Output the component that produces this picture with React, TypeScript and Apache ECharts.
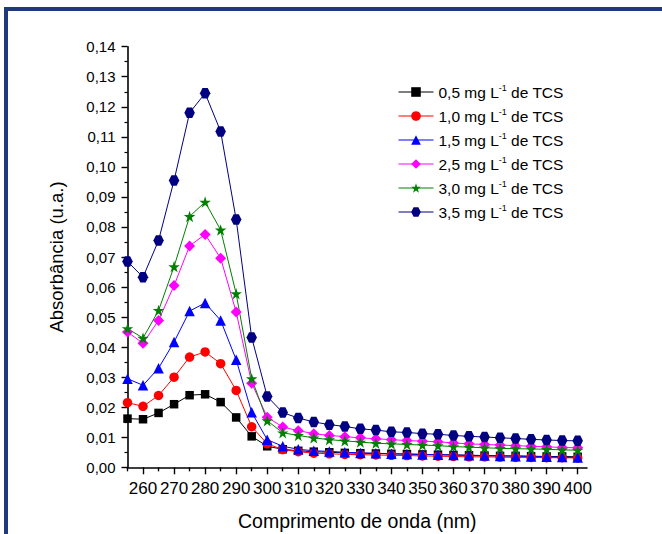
import React, { useEffect, useRef } from "react";
import * as echarts from "echarts";

const wavelengths = [255, 260, 265, 270, 275, 280, 285, 290, 295, 300, 305, 310, 315, 320, 325, 330, 335, 340, 345, 350, 355, 360, 365, 370, 375, 380, 385, 390, 395, 400];

const s05 = [0.0162, 0.0160, 0.0181, 0.0210, 0.0240, 0.0243, 0.0217, 0.0166, 0.0103, 0.0070, 0.0060, 0.0055, 0.0052, 0.0050, 0.0048, 0.0047, 0.0046, 0.0045, 0.0044, 0.0043, 0.0042, 0.0041, 0.0040, 0.0039, 0.0038, 0.0038, 0.0037, 0.0036, 0.0036, 0.0035];
const s10 = [0.0215, 0.0203, 0.0239, 0.0300, 0.0367, 0.0384, 0.0345, 0.0256, 0.0135, 0.0078, 0.0059, 0.0052, 0.0047, 0.0045, 0.0043, 0.0042, 0.0041, 0.0040, 0.0039, 0.0038, 0.0037, 0.0036, 0.0035, 0.0035, 0.0034, 0.0033, 0.0033, 0.0032, 0.0032, 0.0031];
const s15 = [0.0295, 0.0273, 0.0330, 0.0417, 0.0520, 0.0547, 0.0489, 0.0358, 0.0183, 0.0092, 0.0070, 0.0060, 0.0055, 0.0053, 0.0050, 0.0048, 0.0047, 0.0045, 0.0044, 0.0043, 0.0042, 0.0041, 0.0040, 0.0039, 0.0038, 0.0037, 0.0036, 0.0035, 0.0034, 0.0033];
const s25 = [0.0450, 0.0413, 0.0489, 0.0605, 0.0737, 0.0775, 0.0696, 0.0517, 0.0280, 0.0167, 0.0134, 0.0122, 0.0112, 0.0106, 0.0102, 0.0098, 0.0095, 0.0092, 0.0089, 0.0087, 0.0085, 0.0081, 0.0078, 0.0076, 0.0074, 0.0072, 0.0070, 0.0068, 0.0066, 0.0065];
const s30 = [0.0462, 0.0430, 0.0522, 0.0668, 0.0835, 0.0883, 0.0790, 0.0578, 0.0295, 0.0155, 0.0115, 0.0106, 0.0098, 0.0092, 0.0088, 0.0084, 0.0080, 0.0078, 0.0076, 0.0074, 0.0072, 0.0069, 0.0067, 0.0065, 0.0063, 0.0062, 0.0061, 0.0060, 0.0058, 0.0057];
const s35 = [0.0685, 0.0633, 0.0755, 0.0955, 0.1180, 0.1245, 0.1118, 0.0825, 0.0432, 0.0236, 0.0182, 0.0164, 0.0151, 0.0142, 0.0136, 0.0128, 0.0124, 0.0118, 0.0116, 0.0112, 0.0110, 0.0106, 0.0103, 0.0101, 0.0098, 0.0096, 0.0093, 0.0091, 0.0089, 0.0088];

const seriesNames = ["0,5 mg L-1 de TCS", "1,0 mg L-1 de TCS", "1,5 mg L-1 de TCS", "2,5 mg L-1 de TCS", "3,0 mg L-1 de TCS", "3,5 mg L-1 de TCS"];
const seriesValues = [s05, s10, s15, s25, s30, s35];

const xMajorTicks = [260, 270, 280, 290, 300, 310, 320, 330, 340, 350, 360, 370, 380, 390, 400];
const xMinorTicks = [255, 265, 275, 285, 295, 305, 315, 325, 335, 345, 355, 365, 375, 385, 395];

const STAR = "path://M50,0 L61.2,34.5 L97.6,34.5 L68.2,55.9 L79.4,90.5 L50,69.1 L20.6,90.5 L31.8,55.9 L2.4,34.5 L38.8,34.5 Z";
const HEX = "path://M25,0 L75,0 L100,50 L75,100 L25,100 L0,50 Z";

const styles = [
  { color: "#000000", symbol: "rect", size: 8.5 },
  { color: "#FF0000", symbol: "circle", size: 9.5 },
  { color: "#0000FF", symbol: "triangle", size: 10.5 },
  { color: "#FF00FF", symbol: "diamond", size: 11 },
  { color: "#008000", symbol: STAR, size: 11.5 },
  { color: "#000080", symbol: HEX, size: 10.5 },
];

const FONT = "'Liberation Sans', Arial, sans-serif";

export default function App() {
  const ref = useRef<HTMLDivElement>(null);
  useEffect(() => {
    if (!ref.current) return;
    const chart = echarts.init(ref.current, null, { renderer: "svg" });
    const series = seriesNames.map((name, i) => ({
      name,
      type: "line",
      xAxisIndex: 0,
      yAxisIndex: 0,
      data: wavelengths.map((w, j) => [w, seriesValues[i][j]]),
      symbol: styles[i].symbol,
      symbolSize: styles[i].size,
      showAllSymbol: true,
      lineStyle: { color: styles[i].color, width: 1 },
      itemStyle: { color: styles[i].color },
      emphasis: { disabled: true },
    }));
    chart.setOption({
      animation: false,
      backgroundColor: "#ffffff",
      textStyle: { fontFamily: FONT },
      grid: { left: 127.5, right: 75, top: 46.7, bottom: 66.7, containLabel: false, outerBoundsMode: "none" },
      legend: {
        orient: "vertical",
        left: 393,
        top: 78,
        itemWidth: 35,
        itemHeight: 12,
        itemGap: 6,
        data: seriesNames,
        lineStyle: { width: 1 },
        formatter: (name: string) => name.replace("L-1", "L{sup|-1}"),
        textStyle: {
          fontFamily: FONT,
          fontSize: 15.5,
          color: "#000",
          lineHeight: 18,
          rich: {
            sup: { fontSize: 9, lineHeight: 8, verticalAlign: "top", color: "#000", fontFamily: FONT },
          },
        },
      },
      xAxis: [
        {
          type: "value",
          min: 255,
          max: 403,
          name: "Comprimento de onda (nm)",
          nameLocation: "middle",
          nameGap: 44,
          nameTextStyle: { fontSize: 19.5, color: "#000", fontFamily: FONT },
          axisLine: { show: true, onZero: false, lineStyle: { color: "#000", width: 1.6 } },
          axisTick: { show: true, customValues: xMinorTicks, length: 4, lineStyle: { color: "#000", width: 1.4 } },
          axisLabel: {
            customValues: xMajorTicks,
            margin: 13,
            fontSize: 17,
            color: "#000",
            fontFamily: "'Liberation Sans Narrow', 'Arial Narrow', 'Liberation Sans', Arial, sans-serif",
          },
          splitLine: { show: false },
        },
        {
          type: "value",
          min: 255,
          max: 403,
          position: "bottom",
          axisLine: { show: false },
          axisTick: { show: true, customValues: xMajorTicks, length: 7, lineStyle: { color: "#000", width: 1.4 } },
          axisLabel: { show: false },
          splitLine: { show: false },
        },
      ],
      yAxis: {
        type: "value",
        min: 0,
        max: 0.14,
        interval: 0.01,
        name: "Absorbância (u.a.)",
        nameLocation: "middle",
        nameGap: 62,
        nameTextStyle: { fontSize: 18.5, color: "#000", fontFamily: FONT },
        axisLine: { show: true, onZero: false, lineStyle: { color: "#000", width: 1.6 } },
        axisTick: { show: true, length: 6, lineStyle: { color: "#000", width: 1.4 } },
        minorTick: { show: true, splitNumber: 2, length: 3, lineStyle: { color: "#000", width: 1.2 } },
        axisLabel: {
          margin: 12,
          fontSize: 15,
          color: "#000",
          fontFamily: FONT,
          formatter: (v: number) => v.toFixed(2).replace(".", ","),
        },
        splitLine: { show: false },
      },
      graphic: [
        { type: "rect", left: 4, top: 7, shape: { width: 658, height: 4 }, style: { fill: "#1F3A7A" } },
        { type: "rect", left: 4, top: 7, shape: { width: 4, height: 527 }, style: { fill: "#1F3A7A" } },
      ],
      series,
    });
    return () => chart.dispose();
  }, []);
  return (
    <div
      ref={ref}
      style={{ position: "fixed", left: 0, top: 0, width: 662, height: 534, background: "#fff" }}
    />
  );
}
